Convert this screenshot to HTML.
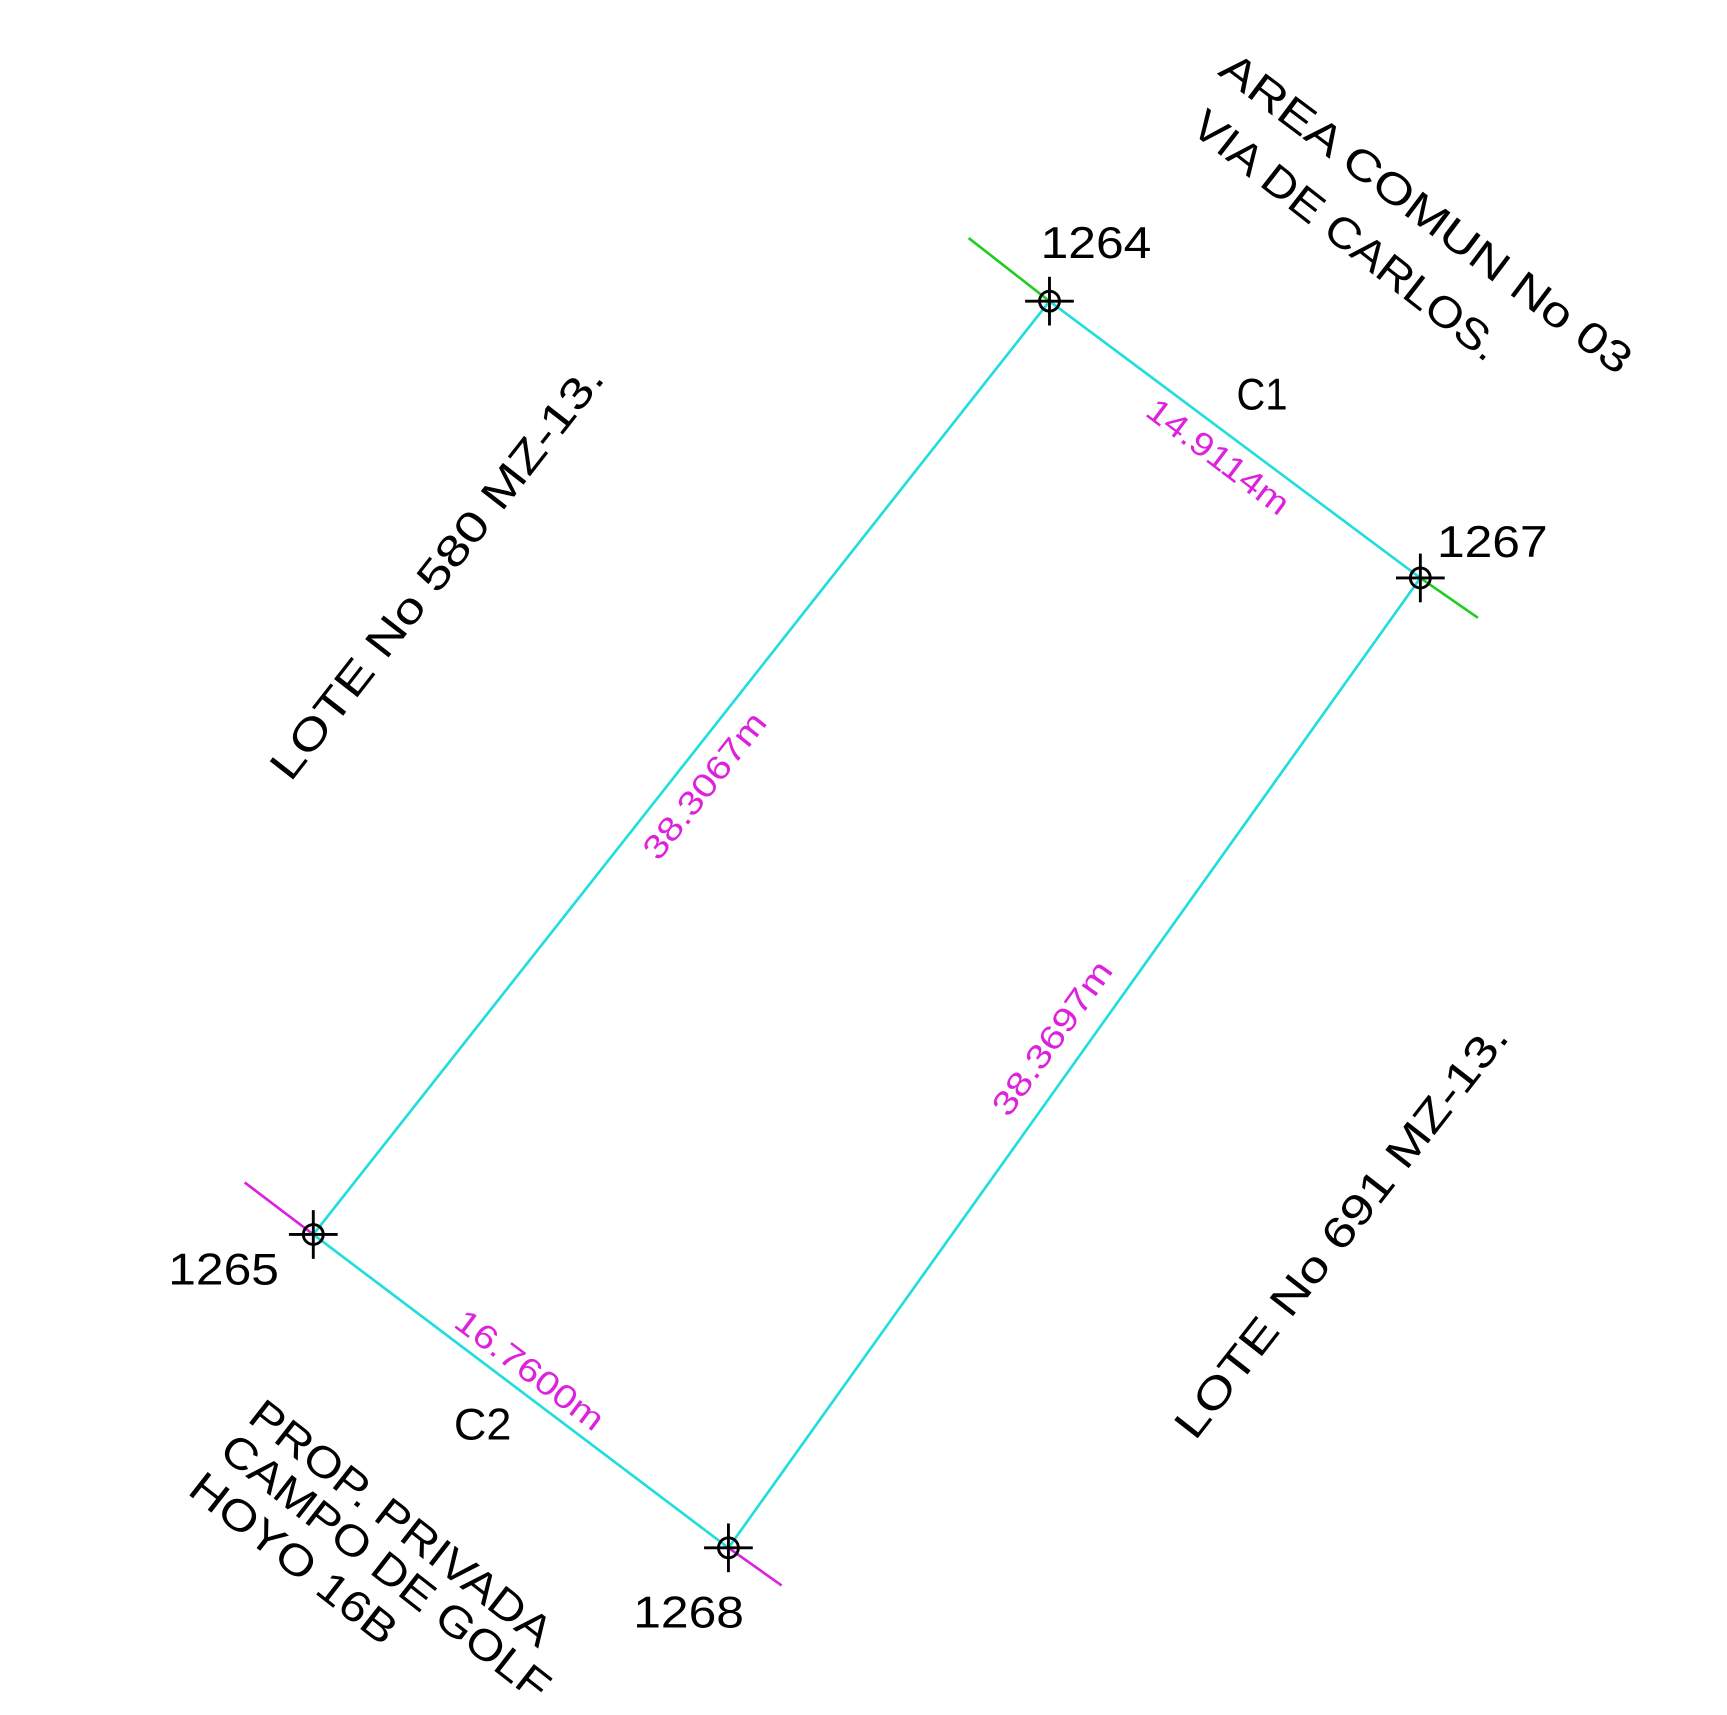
<!DOCTYPE html>
<html><head><style>html,body{margin:0;padding:0;background:#fff;}svg{display:block;}</style></head>
<body>
<svg width="1727" height="1715" viewBox="0 0 1560 1549" preserveAspectRatio="none" xmlns="http://www.w3.org/2000/svg" font-family="Liberation Sans, sans-serif">
<rect width="1560" height="1549" fill="#fff"/>
<g stroke-width="2.4" fill="none">
<line x1="875" y1="215" x2="948" y2="272" stroke="#22cc22"/>
<line x1="1283" y1="522" x2="1335" y2="558" stroke="#22cc22"/>
<line x1="221" y1="1068" x2="283" y2="1115" stroke="#dd22dd"/>
<line x1="658" y1="1398" x2="706" y2="1432" stroke="#dd22dd"/>
<polygon points="948,272 1283,522 658,1398 283,1115" stroke="#22dddd"/>
</g>
<g stroke="#000" stroke-width="2.6" fill="none">
<circle cx="948" cy="272" r="9"/><line x1="926" y1="272" x2="970" y2="272"/><line x1="948" y1="250" x2="948" y2="294"/>
<circle cx="1283" cy="522" r="9"/><line x1="1261" y1="522" x2="1305" y2="522"/><line x1="1283" y1="500" x2="1283" y2="544"/>
<circle cx="283" cy="1115" r="9"/><line x1="261" y1="1115" x2="305" y2="1115"/><line x1="283" y1="1093" x2="283" y2="1137"/>
<circle cx="658" cy="1398" r="9"/><line x1="636" y1="1398" x2="680" y2="1398"/><line x1="658" y1="1376" x2="658" y2="1420"/>
</g>
<g fill="#000" font-size="40">
<text x="940" y="233" textLength="100" lengthAdjust="spacingAndGlyphs">1264</text>
<text x="1298" y="503" textLength="100" lengthAdjust="spacingAndGlyphs">1267</text>
<text x="152" y="1160" textLength="100" lengthAdjust="spacingAndGlyphs">1265</text>
<text x="572" y="1470" textLength="100" lengthAdjust="spacingAndGlyphs">1268</text>
<text x="1117" y="370" textLength="46" lengthAdjust="spacingAndGlyphs">C1</text>
<text x="410" y="1300" textLength="52" lengthAdjust="spacingAndGlyphs">C2</text>
</g>
<g fill="#000" font-size="39" text-anchor="middle" dominant-baseline="central">
<text transform="translate(395,517) rotate(-52)" textLength="463" lengthAdjust="spacingAndGlyphs">LOTE No 580 MZ-13.</text>
<text transform="translate(1212,1112) rotate(-52)" textLength="463" lengthAdjust="spacingAndGlyphs">LOTE No 691 MZ-13.</text>
<text transform="translate(1288,193) rotate(37)" textLength="454" lengthAdjust="spacingAndGlyphs">AREA COMUN No 03</text>
<text transform="translate(1216,213) rotate(38)" textLength="341" lengthAdjust="spacingAndGlyphs">VIA DE CARLOS.</text>
<text transform="translate(362,1376) rotate(38)" textLength="335" lengthAdjust="spacingAndGlyphs">PROP. PRIVADA</text>
<text transform="translate(348,1416) rotate(38)" textLength="365" lengthAdjust="spacingAndGlyphs">CAMPO DE GOLF</text>
<text transform="translate(265,1408) rotate(38)" textLength="226" lengthAdjust="spacingAndGlyphs">HOYO 16B</text>
</g>
<g fill="#dd22dd" font-size="30" text-anchor="middle" dominant-baseline="central">
<text transform="translate(637,710) rotate(-51.7)" textLength="160" lengthAdjust="spacingAndGlyphs">38.3067m</text>
<text transform="translate(951,938) rotate(-54.5)" textLength="164" lengthAdjust="spacingAndGlyphs">38.3697m</text>
<text transform="translate(1100,413) rotate(37)" textLength="153" lengthAdjust="spacingAndGlyphs">14.9114m</text>
<text transform="translate(478,1238) rotate(37)" textLength="160" lengthAdjust="spacingAndGlyphs">16.7600m</text>
</g>
</svg>
</body></html>
